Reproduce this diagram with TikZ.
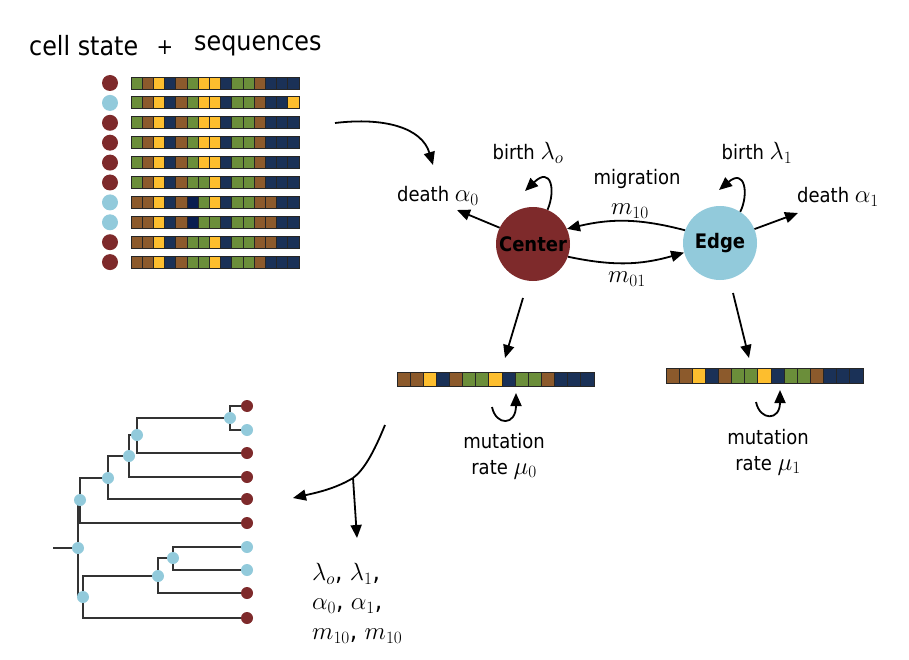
\documentclass[tikz,border=0pt]{standalone}
\usepackage{fontspec}
\setmainfont{DejaVu Sans Condensed}
\usetikzlibrary{arrows.meta}
\definecolor{cred}{HTML}{7E2A2B}
\definecolor{cblue}{HTML}{92CADB}
\definecolor{sg}{HTML}{6B8E3A}
\definecolor{sb}{HTML}{8C5A2C}
\definecolor{sy}{HTML}{FDBE2E}
\definecolor{sn}{HTML}{1A3157}
\definecolor{sd}{HTML}{0A1E50}
\definecolor{treeline}{HTML}{333333}
\newcommand{\drawseq}[5]{%
  \foreach \c [count=\i from 0] in {#5}{%
    \filldraw[fill=\c, draw=black!85, line width=0.9pt] ({#1+\i*#3},{#2}) rectangle ++(#3,#4);
  }%
}
\newcommand{\mth}[1]{{\fontsize{23}{24}\selectfont$#1$}}
\tikzset{
  lbl/.style={font=\fontsize{20}{24}\selectfont, inner sep=1pt},
  arr/.style={-{Triangle[length=13pt,width=11pt]}, line width=1.8pt},
  state/.style={circle, minimum size=74pt, inner sep=0pt, font=\fontsize{20}{24}\selectfont\bfseries},
  cdot/.style={circle, minimum size=16pt, inner sep=0pt},
  tdot/.style={circle, minimum size=12pt, inner sep=0pt},
  tline/.style={draw=treeline, line width=1.5pt},
}
\begin{document}
\begin{tikzpicture}[x=1pt,y=-1pt]
\useasboundingbox (0,0) rectangle (909,660);

% title
\node[font=\fontsize{26.5}{30}\selectfont, anchor=west, inner sep=0pt] (t1) at (29,46) {cell state};
\node[font=\fontsize{22}{26}\selectfont, inner sep=0pt] (tplus) at (165,48) {+};
\node[font=\fontsize{26.5}{30}\selectfont, anchor=west, inner sep=0pt] (t2) at (194,46) {sequences};

% cell states and sequences
\foreach \col [count=\k from 0] in {cred,cblue,cred,cred,cred,cred,cblue,cblue,cred,cred}{
  \node[cdot, fill=\col] (cs\k) at (110,{83+\k*19.9}) {};
}
\drawseq{131}{77}{11.2}{12}{sg,sb,sy,sn,sb,sg,sy,sy,sn,sg,sg,sb,sn,sn,sn}
\drawseq{131}{96.9}{11.2}{12}{sg,sb,sy,sn,sb,sg,sy,sy,sn,sg,sg,sb,sn,sn,sy}
\drawseq{131}{116.8}{11.2}{12}{sg,sb,sy,sn,sb,sg,sy,sy,sn,sg,sg,sb,sn,sn,sn}
\drawseq{131}{136.7}{11.2}{12}{sg,sb,sy,sn,sb,sg,sy,sy,sn,sg,sg,sb,sn,sn,sn}
\drawseq{131}{156.6}{11.2}{12}{sg,sb,sy,sn,sb,sg,sy,sy,sn,sg,sg,sb,sn,sn,sn}
\drawseq{131}{176.5}{11.2}{12}{sg,sb,sy,sn,sb,sg,sg,sy,sn,sg,sg,sb,sn,sn,sn}
\drawseq{131}{196.4}{11.2}{12}{sb,sb,sy,sn,sb,sd,sg,sy,sn,sg,sg,sb,sb,sn,sn}
\drawseq{131}{216.3}{11.2}{12}{sb,sb,sy,sn,sb,sd,sg,sg,sn,sg,sg,sb,sb,sn,sn}
\drawseq{131}{236.2}{11.2}{12}{sb,sb,sy,sn,sb,sg,sg,sy,sn,sg,sg,sb,sb,sn,sn}
\drawseq{131}{256.1}{11.2}{12}{sb,sb,sy,sn,sb,sg,sg,sy,sn,sg,sg,sb,sn,sn,sn}

% arrow to model
\coordinate (inS) at (335,123);
\coordinate (inE) at (433,165);
\draw[arr] (inS) .. controls (385,117) and (422,128) .. (inE);

% states
\node[state, fill=cred] (C) at (533,244) {Center};
\node[state, fill=cblue] (E) at (720,243) {Edge};

% labels
\node[lbl] (dA0) at (438,196) {death \mth{\alpha_0}};
\node[lbl] (bL0) at (528,153) {birth \mth{\lambda_o}};
\node[lbl] (mig) at (637,179) {migration};
\node[lbl] (m10) at (630,211) {\mth{m_{10}}};
\node[lbl] (m01) at (627,279) {\mth{m_{01}}};
\node[lbl] (bL1) at (757,153) {birth \mth{\lambda_1}};
\node[lbl] (dA1) at (838,197) {death \mth{\alpha_1}};

\coordinate (dA0tip) at (457,210);
\coordinate (dA1tip) at (798,213);
\draw[arr] (C.154) -- (dA0tip);
\draw[arr] (E.22) -- (dA1tip);
\coordinate (bL0tip) at (525,191);
\coordinate (bL1tip) at (719,190);
\draw[arr] (C.67) .. controls (556,190) and (551,166) .. (bL0tip);
\draw[arr] (E.57) .. controls (749,194) and (745,168) .. (bL1tip);
\draw[arr] (E.160) to[bend right=14] (C.24);
\draw[arr] (C.-20) to[bend right=14] (E.195);

% down arrows
\coordinate (dlS) at (523,298);
\coordinate (dlE) at (505,358);
\coordinate (drS) at (733,293);
\coordinate (drE) at (749,358);
\draw[arr] (dlS) -- (dlE);
\draw[arr] (drS) -- (drE);

% daughter sequences
\drawseq{397}{372}{13.13}{14}{sb,sb,sy,sn,sb,sg,sg,sy,sn,sg,sg,sb,sn,sn,sn}
\drawseq{666}{368}{13.13}{15}{sb,sb,sy,sn,sb,sg,sg,sy,sn,sg,sg,sb,sn,sn,sn}

% mutation loops
\coordinate (mu0S) at (492,407);
\coordinate (mu0E) at (516,393);
\coordinate (mu1S) at (756,402);
\coordinate (mu1E) at (780,390);
\draw[arr] (mu0S) .. controls (496,426) and (516,426) .. (mu0E);
\draw[arr] (mu1S) .. controls (760,421) and (780,421) .. (mu1E);
\node[lbl, align=center] (mut0) at (504,456) {mutation\\[2pt]rate \mth{\mu_0}};
\node[lbl, align=center] (mut1) at (768,452) {mutation\\[2pt]rate \mth{\mu_1}};

% inference arrows
\coordinate (infS) at (385,425);
\coordinate (infB) at (353,478);
\coordinate (infT) at (293,498);
\coordinate (infP) at (357,538);
\draw[line width=1.8pt] (infS) .. controls (374,452) and (364,470) .. (infB);
\draw[arr] (infB) .. controls (335,489) and (315,493) .. (infT);
\draw[arr] (infB) -- (infP);

\node[lbl, anchor=north west, align=left, font=\fontsize{26}{29.5}\selectfont] (params) at (311,562)
  {$\lambda_o$, $\lambda_1$,\\ $\alpha_0$, $\alpha_1$,\\ $m_{10}$, $m_{10}$};

% tree
\coordinate (root) at (53,548);
\foreach \y [count=\k] in {406,430,453,477,499,523,547,570,593,618}{
  \coordinate (l\k) at (247,\y);
}
\coordinate (nA) at (230,418);
\coordinate (nB) at (137,435);
\coordinate (nC) at (129,456);
\coordinate (nD) at (108,478);
\coordinate (nE) at (80,500);
\coordinate (nF) at (78,548);
\coordinate (nG) at (83,597);
\coordinate (nH) at (158,576);
\coordinate (nI) at (173,558);
\draw[tline] (root) -- (nF);
\draw[tline] (nF) |- (nE);
\draw[tline] (nF) |- (nG);
\draw[tline] (nE) |- (nD);
\draw[tline] (nE) |- (l6);
\draw[tline] (nD) |- (nC);
\draw[tline] (nD) |- (l5);
\draw[tline] (nC) |- (nB);
\draw[tline] (nC) |- (l4);
\draw[tline] (nB) |- (nA);
\draw[tline] (nB) |- (l3);
\draw[tline] (nA) |- (l1);
\draw[tline] (nA) |- (l2);
\draw[tline] (nG) |- (nH);
\draw[tline] (nG) |- (l10);
\draw[tline] (nH) |- (nI);
\draw[tline] (nH) |- (l9);
\draw[tline] (nI) |- (l7);
\draw[tline] (nI) |- (l8);
\foreach \n in {nA,nB,nC,nD,nE,nF,nG,nH,nI}{
  \node[tdot, fill=cblue] (d\n) at (\n) {};
}
\foreach \k/\col in {1/cred,2/cblue,3/cred,4/cred,5/cred,6/cred,7/cblue,8/cblue,9/cred,10/cred}{
  \node[tdot, fill=\col] (dl\k) at (l\k) {};
}
\end{tikzpicture}
\end{document}
